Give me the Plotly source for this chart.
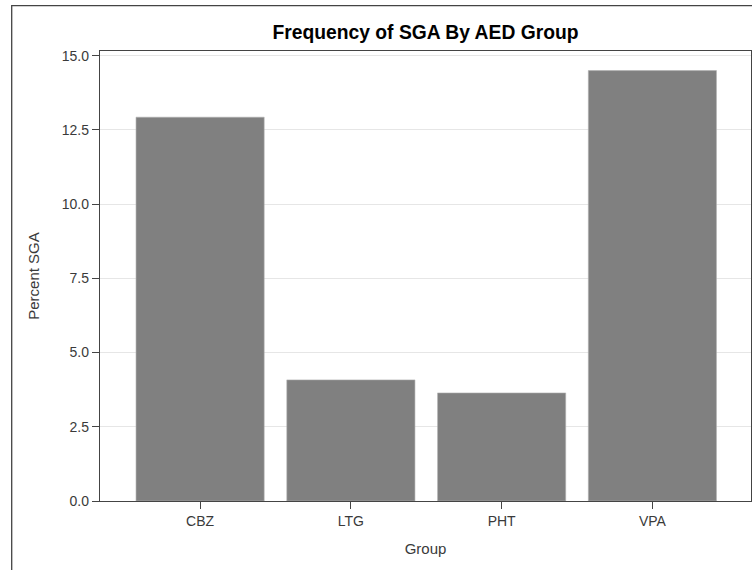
import plotly.graph_objects as go

groups = ["CBZ", "LTG", "PHT", "VPA"]
percent_sga = [12.93, 4.08, 3.64, 14.5]
y_ticks = [0, 2.5, 5.0, 7.5, 10.0, 12.5, 15.0]

ML, MR, MT, MB = 100, 1, 51, 69
W, H = 752, 570
pw, ph = W - ML - MR, H - MT - MB

fig = go.Figure(go.Bar(
    x=groups, y=percent_sga, width=0.85,
    marker=dict(color="#808080", line=dict(color="#b0b0b0", width=0.6)),
))

def px_to_paper_x(p):
    return (p - ML) / pw

def px_to_paper_y(p):
    return (H - MB - p) / ph

fig.add_shape(type="rect", xref="paper", yref="paper",
              x0=px_to_paper_x(11.7), x1=px_to_paper_x(800),
              y0=px_to_paper_y(640), y1=px_to_paper_y(5.7),
              line=dict(color="#444444", width=1.3), fillcolor="rgba(0,0,0,0)", layer="below")

fig.update_layout(
    width=W, height=H,
    margin=dict(l=ML, r=MR, t=MT, b=MB),
    paper_bgcolor="white", plot_bgcolor="white",
    font=dict(family="Liberation Sans, Arial, sans-serif", size=14, color="#3a3a3a"),
    title=dict(text="<b>Frequency of SGA By AED Group</b>", x=(ML + pw / 2) / W, xanchor="center",
               y=1 - 32 / H, yanchor="middle",
               font=dict(size=19.3, color="#000000")),
    showlegend=False,
    bargap=0.15,
)
fig.update_xaxes(
    title=dict(text="Group", font=dict(size=15, color="#3a3a3a"), standoff=15),
    range=[-0.664, 3.654], showline=True, linecolor="#444444", linewidth=1.3, mirror=True,
    ticks="outside", ticklen=7, tickcolor="#444444", showgrid=False,
    tickfont=dict(size=14, color="#3a3a3a"),
)
fig.update_yaxes(
    title=dict(text="Percent SGA", font=dict(size=15, color="#3a3a3a"), standoff=18),
    range=[0, 15.16], tickvals=y_ticks, tickformat=".1f",
    showline=True, linecolor="#444444", linewidth=1.3, mirror=True,
    ticks="outside", ticklen=7, tickcolor="#444444",
    showgrid=True, gridcolor="#e6e6e6", gridwidth=1, zeroline=False,
    tickfont=dict(size=14, color="#3a3a3a"),
)

fig.write_html("out.html", config={"displayModeBar": False},
               post_script="document.body.style.margin='0';")
